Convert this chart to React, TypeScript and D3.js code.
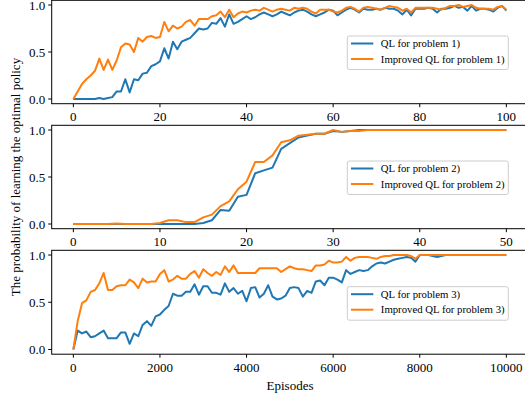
import * as d3 from 'd3'

const W = 525
const H = 402
const BLUE = '#1f77b4'
const ORANGE = '#ff7f0e'
const FONT = '"Liberation Serif", "Times New Roman", serif'

// problem 1): one value per episode, 0..100
const EPISODES_1 = d3.range(0, 101)
const QL_1 = [
  0, 0, 0, 0, 0, 0, 0.01, 0, 0.01, 0.02,
  0.08, 0.08, 0.21, 0.07, 0.21, 0.2, 0.27, 0.28, 0.35, 0.37,
  0.4, 0.54, 0.43, 0.61, 0.53, 0.61, 0.63, 0.65, 0.7, 0.75,
  0.74, 0.75, 0.81, 0.8, 0.86, 0.77, 0.9, 0.8, 0.82, 0.85,
  0.88, 0.85, 0.87, 0.9, 0.92, 0.9, 0.88, 0.9, 0.93, 0.91,
  0.89, 0.92, 0.94, 0.95, 0.93, 0.9, 0.88, 0.9, 0.92, 0.95,
  0.94, 0.89, 0.92, 0.95, 0.97, 0.95, 0.92, 0.96, 0.95, 0.95,
  0.96, 0.95, 0.97, 0.96, 0.96, 0.94, 0.9, 0.95, 0.89, 0.96,
  0.96, 0.96, 0.97, 0.96, 0.92, 0.96, 0.96, 0.97, 0.99, 0.97,
  0.98, 0.94, 0.99, 0.94, 0.96, 0.96, 0.95, 0.93, 0.97, 0.99,
  0.94,
]
const IQL_1 = [
  0, 0.08, 0.16, 0.21, 0.25, 0.3, 0.43, 0.31, 0.42, 0.31,
  0.41, 0.55, 0.59, 0.58, 0.5, 0.65, 0.61, 0.66, 0.67, 0.65,
  0.66, 0.82, 0.72, 0.78, 0.75, 0.77, 0.82, 0.84, 0.78, 0.85,
  0.85, 0.85, 0.88, 0.89, 0.93, 0.87, 0.95, 0.87, 0.91, 0.93,
  0.92, 0.94, 0.95, 0.94, 0.97, 0.95, 0.93, 0.95, 0.96, 0.95,
  0.94, 0.97, 0.96, 0.97, 0.96, 0.93, 0.91, 0.95, 0.95, 0.95,
  0.93, 0.92, 0.94, 0.97, 0.98, 0.96, 0.93, 0.97, 0.98, 0.97,
  0.96, 0.95, 0.97, 0.99, 0.98, 0.97, 0.94, 0.96, 0.92, 0.97,
  0.97, 0.97, 0.97, 0.97, 0.96, 0.95, 0.97, 0.99, 0.99, 1.0,
  0.98, 0.99, 1.0, 0.97, 0.96, 0.96, 0.96, 0.95, 0.98, 0.99,
  0.95,
]

// problem 2): one value per episode, 0..50
const EPISODES_2 = d3.range(0, 51)
const QL_2 = [
  0, 0, 0, 0, 0, 0, 0, 0, 0, 0,
  0, 0, 0, 0, 0, 0.01, 0.04, 0.15, 0.14, 0.29,
  0.31, 0.54, 0.57, 0.6, 0.8, 0.86, 0.92, 0.94, 0.96, 0.96,
  0.99, 0.98, 0.99, 1, 1, 1, 1, 1, 1, 1,
  1, 1, 1, 1, 1, 1, 1, 1, 1, 1,
  1,
]
const IQL_2 = [
  0, 0, 0, 0, 0, 0.005, 0, 0, 0, 0,
  0.01, 0.04, 0.04, 0.02, 0.02, 0.07, 0.1, 0.19, 0.24, 0.37,
  0.45, 0.66, 0.66, 0.73, 0.87, 0.89, 0.94, 0.95, 0.96, 0.96,
  1, 0.98, 0.99, 0.99, 1, 1, 1, 1, 1, 1,
  1, 1, 1, 1, 1, 1, 1, 1, 1, 1,
  1,
]

// problem 3): one value every 100 episodes, 0..10000
const EPISODES_3 = d3.range(0, 10001, 100)
const QL_3 = [
  0, 0.2, 0.17, 0.19, 0.13, 0.14, 0.17, 0.2, 0.12, 0.12,
  0.12, 0.18, 0.18, 0.06, 0.17, 0.14, 0.26, 0.3, 0.25, 0.35,
  0.37, 0.42, 0.46, 0.59, 0.57, 0.57, 0.61, 0.61, 0.69, 0.58,
  0.67, 0.67, 0.6, 0.6, 0.58, 0.7, 0.61, 0.65, 0.59, 0.62,
  0.51, 0.65, 0.66, 0.55, 0.59, 0.68, 0.56, 0.53, 0.54, 0.57,
  0.65, 0.66, 0.65, 0.56, 0.62, 0.6, 0.72, 0.73, 0.68, 0.76,
  0.76, 0.74, 0.71, 0.84, 0.8, 0.82, 0.84, 0.83, 0.84, 0.88,
  0.91, 0.92, 0.91, 0.93, 0.95, 0.96, 0.97, 0.98, 0.97, 0.93,
  1, 1, 1, 0.99, 0.98, 0.99, 1, 1, 1, 1,
  1, 1, 1, 1, 1, 1, 1, 1, 1, 1,
  1,
]
const IQL_3 = [
  0, 0.3, 0.49, 0.52, 0.61, 0.63, 0.7, 0.81, 0.63, 0.63,
  0.67, 0.68, 0.68, 0.74, 0.71, 0.65, 0.75, 0.71, 0.72, 0.72,
  0.8, 0.84, 0.72, 0.74, 0.78, 0.75, 0.75, 0.8, 0.83, 0.76,
  0.85, 0.81, 0.78, 0.82, 0.79, 0.88, 0.82, 0.89, 0.81, 0.81,
  0.81, 0.81, 0.81, 0.86, 0.86, 0.86, 0.86, 0.86, 0.82, 0.85,
  0.88, 0.86, 0.85, 0.85, 0.84, 0.83, 0.89, 0.89, 0.9, 0.94,
  0.92, 0.92, 0.93, 0.98, 0.94, 0.97, 0.98, 0.98, 0.98, 0.97,
  0.96, 0.98, 0.99, 0.99, 1, 1, 1, 1, 0.99, 0.96,
  1, 1, 1, 1, 1, 1, 1, 1, 1, 1,
  1, 1, 1, 1, 1, 1, 1, 1, 1, 1,
  1,
]

const X_TICKS_1 = [0, 20, 40, 60, 80, 100]
const X_TICKS_2 = [0, 10, 20, 30, 40, 50]
const X_TICKS_3 = [0, 2000, 4000, 6000, 8000, 10000]
const Y_TICKS = [0, 0.5, 1]

const LEGEND_1 = ['QL for problem 1)', 'Improved QL for problem 1)']
const LEGEND_2 = ['QL for problem 2)', 'Improved QL for problem 2)']
const LEGEND_3 = ['QL for problem 3)', 'Improved QL for problem 3)']

const LEFT = 51.7
const RIGHT = 528

type PanelProps = {
  xs: number[]
  ql: number[]
  iql: number[]
  xTicks: number[]
  labels: string[]
  top: number
  bottom: number
  legendY: number
}

function Panel({xs, ql, iql, xTicks, labels, top, bottom, legendY}: PanelProps) {
  const [x0, x1] = d3.extent(xs) as [number, number]
  const pad = (x1 - x0) * 0.05
  const x = d3.scaleLinear().domain([x0 - pad, x1 + pad]).range([LEFT, RIGHT])
  const y = d3.scaleLinear().domain([-0.05, 1.05]).range([bottom, top])

  const line = (vals: number[]) =>
    d3.line<number>().x((_, i) => x(xs[i])).y(v => y(v))(vals) ?? undefined

  const legendX = 347.3
  const rows = [legendY + 7.5, legendY + 23]

  return (
    <g>
      <path d={line(ql)} fill={'none'} stroke={BLUE} strokeWidth={2} strokeLinejoin={'round'} />
      <path d={line(iql)} fill={'none'} stroke={ORANGE} strokeWidth={2} strokeLinejoin={'round'} />
      <rect x={LEFT} y={top} width={RIGHT - LEFT} height={bottom - top} fill={'none'} stroke={'black'} strokeWidth={1} />

      {Y_TICKS.map(t => (
        <g key={t}>
          <line x1={LEFT - 3.5} x2={LEFT} y1={y(t)} y2={y(t)} stroke={'black'} strokeWidth={1} />
          <text x={LEFT - 6.5} y={y(t)} dy={'0.35em'} textAnchor={'end'} fontSize={13}>
            {t.toFixed(1)}
          </text>
        </g>
      ))}
      {xTicks.map(t => (
        <g key={t}>
          <line x1={x(t)} x2={x(t)} y1={bottom} y2={bottom + 3.5} stroke={'black'} strokeWidth={1} />
          <text x={x(t)} y={bottom + 17.5} textAnchor={'middle'} fontSize={13}>
            {t}
          </text>
        </g>
      ))}

      <rect x={legendX} y={legendY} width={161} height={33.5} rx={2}
        fill={'white'} fillOpacity={0.8} stroke={'#cccccc'} strokeWidth={1} />
      {labels.map((label, i) => (
        <g key={label}>
          <line x1={legendX + 3.7} x2={legendX + 26} y1={rows[i]} y2={rows[i]}
            stroke={i === 0 ? BLUE : ORANGE} strokeWidth={2} />
          <text x={legendX + 33.5} y={rows[i]} dy={'0.35em'} fontSize={10.75}>
            {label}
          </text>
        </g>
      ))}
    </g>
  )
}

export default function App() {
  return (
    <svg width={W} height={H} viewBox={`0 0 ${W} ${H}`}
      style={{position: 'absolute', left: 0, top: 0, background: 'white'}}
      fontFamily={FONT} fill={'black'}>
      <Panel xs={EPISODES_1} ql={QL_1} iql={IQL_1} xTicks={X_TICKS_1} labels={LEGEND_1}
        top={0.3} bottom={103.7} legendY={36} />
      <Panel xs={EPISODES_2} ql={QL_2} iql={IQL_2} xTicks={X_TICKS_2} labels={LEGEND_2}
        top={125.3} bottom={228.7} legendY={161} />
      <Panel xs={EPISODES_3} ql={QL_3} iql={IQL_3} xTicks={X_TICKS_3} labels={LEGEND_3}
        top={250.3} bottom={354.2} legendY={286.7} />
      <text transform={'translate(20, 177) rotate(-90)'} textAnchor={'middle'} fontSize={13}>
        The probability of learning the optimal policy
      </text>
      <text x={290} y={390} textAnchor={'middle'} fontSize={13}>
        Episodes
      </text>
    </svg>
  )
}
